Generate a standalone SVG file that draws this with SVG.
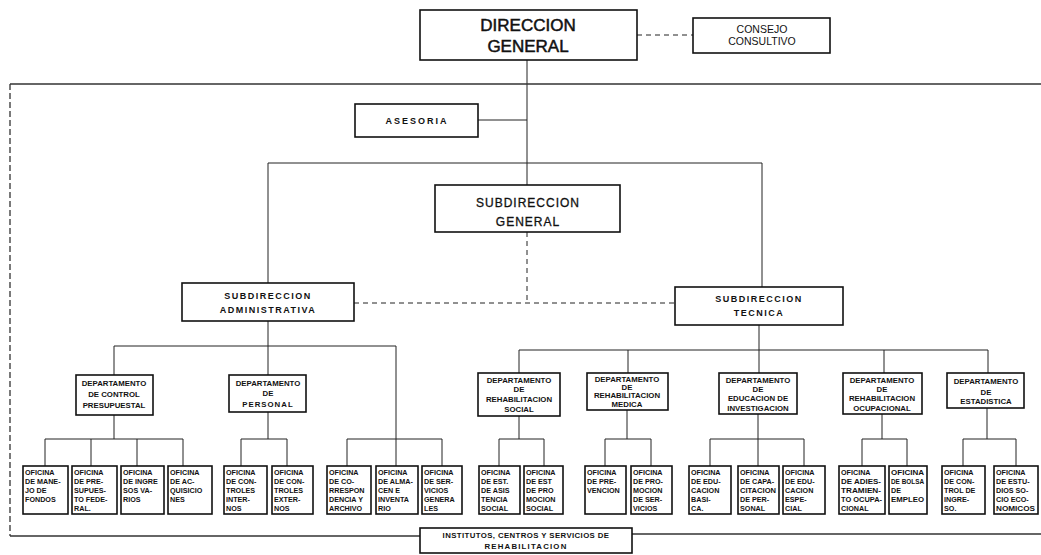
<svg xmlns="http://www.w3.org/2000/svg" width="1041" height="555" viewBox="0 0 1041 555">
<style>
.bg{fill:#fff}
.box{fill:#fff;stroke:#111;stroke-width:1.6}
.ln{stroke:#222;stroke-width:1;fill:none}
.dash{stroke-dasharray:5 4}
.fr{stroke:#333;stroke-width:1.3;fill:none}
text{font-family:"Liberation Sans",Arial,sans-serif;fill:#111;font-weight:bold;text-anchor:middle}
.big{font-size:17px;font-weight:normal;stroke:#111;stroke-width:0.5}
.mid{font-size:12px;font-weight:normal;stroke:#111;stroke-width:0.3;letter-spacing:1px}
.sub{font-size:9px;letter-spacing:1.5px}
.dep{font-size:7.8px}
.of{font-size:7.2px;text-anchor:start}
</style>
<rect class="bg" x="0" y="0" width="1041" height="555"/>
<g id="connectors">
  <line class="ln dash" x1="637" y1="35" x2="693" y2="35"/>
  <line class="ln" x1="527" y1="60" x2="527" y2="185"/>
  <line class="fr" x1="10" y1="84" x2="1041" y2="84"/>
  <line class="fr" x1="10" y1="84" x2="10" y2="536" stroke-dasharray="6 3"/>
  <line class="fr" x1="10" y1="536" x2="420" y2="536"/>
  <line class="fr" x1="632" y1="534" x2="1041" y2="534"/>
  <line class="ln" x1="478" y1="120" x2="527" y2="120"/>
  <polyline class="ln" points="268,283 268,163 762,163 762,287"/>
  <line class="ln dash" x1="527" y1="232" x2="527" y2="303"/>
  <line class="ln dash" x1="354" y1="303" x2="675" y2="303"/>
  <line class="ln" x1="268" y1="321" x2="268" y2="375"/>
  <polyline class="ln" points="114,375 114,346 396,346 396,439"/>
  <line class="ln" x1="114" y1="415" x2="114" y2="439"/>
  <line class="ln" x1="45" y1="439" x2="183" y2="439"/>
  <line class="ln" x1="45" y1="439" x2="45" y2="466"/>
  <line class="ln" x1="91" y1="439" x2="91" y2="466"/>
  <line class="ln" x1="137" y1="439" x2="137" y2="466"/>
  <line class="ln" x1="183" y1="439" x2="183" y2="466"/>
  <line class="ln" x1="268" y1="412" x2="268" y2="439"/>
  <polyline class="ln" points="241,466 241,439 287,439 287,466"/>
  <polyline class="ln" points="347,466 347,439 442,439 442,466"/>
  <line class="ln" x1="396" y1="439" x2="396" y2="466"/>
  <line class="ln" x1="759" y1="325" x2="759" y2="373"/>
  <polyline class="ln" points="519,373 519,350 988,350 988,373"/>
  <line class="ln" x1="628" y1="350" x2="628" y2="373"/>
  <line class="ln" x1="884" y1="350" x2="884" y2="373"/>
  <line class="ln" x1="519" y1="416" x2="519" y2="439"/>
  <polyline class="ln" points="499,466 499,439 544,439 544,466"/>
  <line class="ln" x1="627" y1="410" x2="627" y2="439"/>
  <polyline class="ln" points="605,466 605,439 651,439 651,466"/>
  <line class="ln" x1="758" y1="414" x2="758" y2="466"/>
  <polyline class="ln" points="710,466 710,439 804,439 804,466"/>
  <line class="ln" x1="882" y1="414" x2="882" y2="439"/>
  <polyline class="ln" points="862,466 862,439 907,439 907,466"/>
  <line class="ln" x1="987" y1="408" x2="987" y2="439"/>
  <polyline class="ln" points="963,466 963,439 1016,439 1016,466"/>
</g>
<g id="direccion-general"><rect class="box" x="420" y="10" width="217" height="50" stroke-width="2"/><text class="big" x="528" y="31">DIRECCION</text><text class="big" x="528" y="52">GENERAL</text></g>
<g id="consejo"><rect class="box" x="693" y="18" width="137" height="35" stroke-width="1.3"/><text style="font-size:10.5px;font-weight:normal" x="762" y="33">CONSEJO</text><text style="font-size:10.5px;font-weight:normal" x="762" y="45">CONSULTIVO</text></g>
<g id="asesoria"><rect class="box" x="355" y="104" width="123" height="33"/><text class="sub" x="417" y="124" style="letter-spacing:2px">ASESORIA</text></g>
<g id="subdireccion-general"><rect class="box" x="435" y="185" width="185" height="47"/><text class="mid" x="528" y="207">SUBDIRECCION</text><text class="mid" x="528" y="226">GENERAL</text></g>
<g id="subdireccion-administrativa"><rect class="box" x="182" y="283" width="172" height="38"/><text class="sub" x="268" y="299">SUBDIRECCION</text><text class="sub" x="268" y="313">ADMINISTRATIVA</text></g>
<g id="subdireccion-tecnica"><rect class="box" x="675" y="287" width="168" height="38"/><text class="sub" x="759" y="302">SUBDIRECCION</text><text class="sub" x="759" y="316">TECNICA</text></g>
<g id="dep-control"><rect class="box" x="76" y="375" width="77" height="40"/><text class="dep" x="114" y="386">DEPARTAMENTO</text><text class="dep" x="114" y="397">DE CONTROL</text><text class="dep" x="114" y="408">PRESUPUESTAL</text></g>
<g id="dep-personal"><rect class="box" x="229" y="375" width="77" height="37"/><text class="dep" x="268" y="386">DEPARTAMENTO</text><text class="dep" x="268" y="396">DE</text><text class="dep" x="268" y="407" style="letter-spacing:1px">PERSONAL</text></g>
<g id="dep-rehab-social"><rect class="box" x="478" y="373" width="82" height="43"/><text class="dep" x="519" y="383">DEPARTAMENTO</text><text class="dep" x="519" y="392">DE</text><text class="dep" x="519" y="402">REHABILITACION</text><text class="dep" x="519" y="412">SOCIAL</text></g>
<g id="dep-rehab-medica"><rect class="box" x="587" y="373" width="81" height="37"/><text class="dep" x="627" y="382">DEPARTAMENTO</text><text class="dep" x="627" y="390">DE</text><text class="dep" x="627" y="398">REHABILITACION</text><text class="dep" x="627" y="407">MEDICA</text></g>
<g id="dep-educacion"><rect class="box" x="719" y="373" width="78" height="41"/><text class="dep" x="758" y="383">DEPARTAMENTO</text><text class="dep" x="758" y="392">DE</text><text class="dep" x="758" y="401">EDUCACION DE</text><text class="dep" x="758" y="411">INVESTIGACION</text></g>
<g id="dep-rehab-ocupacional"><rect class="box" x="843" y="373" width="79" height="41"/><text class="dep" x="882" y="383">DEPARTAMENTO</text><text class="dep" x="882" y="392">DE</text><text class="dep" x="882" y="401">REHABILITACION</text><text class="dep" x="882" y="411">OCUPACIONAL</text></g>
<g id="dep-estadistica"><rect class="box" x="947" y="373" width="77" height="35" stroke-width="2"/><text class="dep" x="986" y="384">DEPARTAMENTO</text><text class="dep" x="986" y="395">DE</text><text class="dep" x="986" y="404">ESTADISTICA</text></g>
<g id="of-1"><rect class="box" x="23" y="466" width="45" height="48"/><text class="of" x="25" y="475">OFICINA</text><text class="of" x="25" y="484">DE MANE-</text><text class="of" x="25" y="493">JO DE</text><text class="of" x="25" y="502">FONDOS</text></g>
<g id="of-2"><rect class="box" x="72" y="466" width="45" height="48"/><text class="of" x="74" y="475">OFICINA</text><text class="of" x="74" y="484">DE PRE-</text><text class="of" x="74" y="493">SUPUES-</text><text class="of" x="74" y="502">TO FEDE-</text><text class="of" x="74" y="511">RAL.</text></g>
<g id="of-3"><rect class="box" x="121" y="466" width="43" height="48"/><text class="of" x="123" y="475">OFICINA</text><text class="of" x="123" y="484">DE INGRE</text><text class="of" x="123" y="493">SOS VA-</text><text class="of" x="123" y="502">RIOS</text></g>
<g id="of-4"><rect class="box" x="168" y="466" width="44" height="48"/><text class="of" x="170" y="475">OFICINA</text><text class="of" x="170" y="484">DE AC-</text><text class="of" x="170" y="493">QUISICIO</text><text class="of" x="170" y="502">NES</text></g>
<g id="of-5"><rect class="box" x="224" y="466" width="43" height="48"/><text class="of" x="226" y="475">OFICINA</text><text class="of" x="226" y="484">DE CON-</text><text class="of" x="226" y="493">TROLES</text><text class="of" x="226" y="502">INTER-</text><text class="of" x="226" y="511">NOS</text></g>
<g id="of-6"><rect class="box" x="272" y="466" width="41" height="48"/><text class="of" x="274" y="475">OFICINA</text><text class="of" x="274" y="484">DE CON-</text><text class="of" x="274" y="493">TROLES</text><text class="of" x="274" y="502">EXTER-</text><text class="of" x="274" y="511">NOS</text></g>
<g id="of-7"><rect class="box" x="327" y="466" width="44" height="48"/><text class="of" x="329" y="475">OFICINA</text><text class="of" x="329" y="484">DE CO-</text><text class="of" x="329" y="493">RRESPON</text><text class="of" x="329" y="502">DENCIA Y</text><text class="of" x="329" y="511">ARCHIVO</text></g>
<g id="of-8"><rect class="box" x="376" y="466" width="42" height="48"/><text class="of" x="378" y="475">OFICINA</text><text class="of" x="378" y="484">DE ALMA-</text><text class="of" x="378" y="493">CEN E</text><text class="of" x="378" y="502">INVENTA</text><text class="of" x="378" y="511">RIO</text></g>
<g id="of-9"><rect class="box" x="422" y="466" width="40" height="48"/><text class="of" x="424" y="475">OFICINA</text><text class="of" x="424" y="484">DE SER-</text><text class="of" x="424" y="493">VICIOS</text><text class="of" x="424" y="502">GENERA</text><text class="of" x="424" y="511">LES</text></g>
<g id="of-10"><rect class="box" x="479" y="466" width="41" height="48"/><text class="of" x="481" y="475">OFICINA</text><text class="of" x="481" y="484">DE EST.</text><text class="of" x="481" y="493">DE ASIS</text><text class="of" x="481" y="502">TENCIA</text><text class="of" x="481" y="511">SOCIAL</text></g>
<g id="of-11"><rect class="box" x="524" y="466" width="39" height="48"/><text class="of" x="526" y="475">OFICINA</text><text class="of" x="526" y="484">DE EST</text><text class="of" x="526" y="493">DE PRO</text><text class="of" x="526" y="502">MOCION</text><text class="of" x="526" y="511">SOCIAL</text></g>
<g id="of-12"><rect class="box" x="585" y="466" width="41" height="48"/><text class="of" x="587" y="475">OFICINA</text><text class="of" x="587" y="484">DE PRE-</text><text class="of" x="587" y="493">VENCION</text></g>
<g id="of-13"><rect class="box" x="631" y="466" width="41" height="48"/><text class="of" x="633" y="475">OFICINA</text><text class="of" x="633" y="484">DE PRO-</text><text class="of" x="633" y="493">MOCION</text><text class="of" x="633" y="502">DE SER-</text><text class="of" x="633" y="511">VICIOS</text></g>
<g id="of-14"><rect class="box" x="689" y="466" width="42" height="48"/><text class="of" x="691" y="475">OFICINA</text><text class="of" x="691" y="484">DE EDU-</text><text class="of" x="691" y="493">CACION</text><text class="of" x="691" y="502">BASI-</text><text class="of" x="691" y="511">CA.</text></g>
<g id="of-15"><rect class="box" x="738" y="466" width="41" height="48"/><text class="of" x="740" y="475">OFICINA</text><text class="of" x="740" y="484">DE CAPA-</text><text class="of" x="740" y="493" textLength="36" lengthAdjust="spacingAndGlyphs">CITACION</text><text class="of" x="740" y="502">DE PER-</text><text class="of" x="740" y="511">SONAL</text></g>
<g id="of-16"><rect class="box" x="783" y="466" width="42" height="48"/><text class="of" x="785" y="475">OFICINA</text><text class="of" x="785" y="484">DE EDU-</text><text class="of" x="785" y="493">CACION</text><text class="of" x="785" y="502">ESPE-</text><text class="of" x="785" y="511">CIAL</text></g>
<g id="of-17"><rect class="box" x="839" y="466" width="46" height="48"/><text class="of" x="841" y="475">OFICINA</text><text class="of" x="841" y="484" textLength="40" lengthAdjust="spacingAndGlyphs">DE ADIES-</text><text class="of" x="841" y="493" textLength="40" lengthAdjust="spacingAndGlyphs">TRAMIEN-</text><text class="of" x="841" y="502" textLength="41" lengthAdjust="spacingAndGlyphs">TO OCUPA-</text><text class="of" x="841" y="511">CIONAL</text></g>
<g id="of-18"><rect class="box" x="889" y="466" width="38" height="48"/><text class="of" x="891" y="475" textLength="33" lengthAdjust="spacingAndGlyphs">OFICINA</text><text class="of" x="891" y="484" textLength="33" lengthAdjust="spacingAndGlyphs">DE BOLSA</text><text class="of" x="891" y="493">DE</text><text class="of" x="891" y="502" textLength="33" lengthAdjust="spacingAndGlyphs">EMPLEO</text></g>
<g id="of-19"><rect class="box" x="942" y="466" width="43" height="48"/><text class="of" x="944" y="475">OFICINA</text><text class="of" x="944" y="484">DE CON-</text><text class="of" x="944" y="493">TROL DE</text><text class="of" x="944" y="502">INGRE-</text><text class="of" x="944" y="511">SO.</text></g>
<g id="of-20"><rect class="box" x="994" y="466" width="44" height="48"/><text class="of" x="996" y="475">OFICINA</text><text class="of" x="996" y="484">DE ESTU-</text><text class="of" x="996" y="493">DIOS SO-</text><text class="of" x="996" y="502">CIO ECO-</text><text class="of" x="996" y="511" textLength="39" lengthAdjust="spacingAndGlyphs">NOMICOS</text></g>
<g id="institutos"><rect class="box" x="420" y="528" width="212" height="25"/><text class="dep" x="526" y="538" style="letter-spacing:0.4px">INSTITUTOS, CENTROS Y SERVICIOS DE</text><text class="dep" x="526" y="549" style="letter-spacing:1.2px">REHABILITACION</text></g>
</svg>
